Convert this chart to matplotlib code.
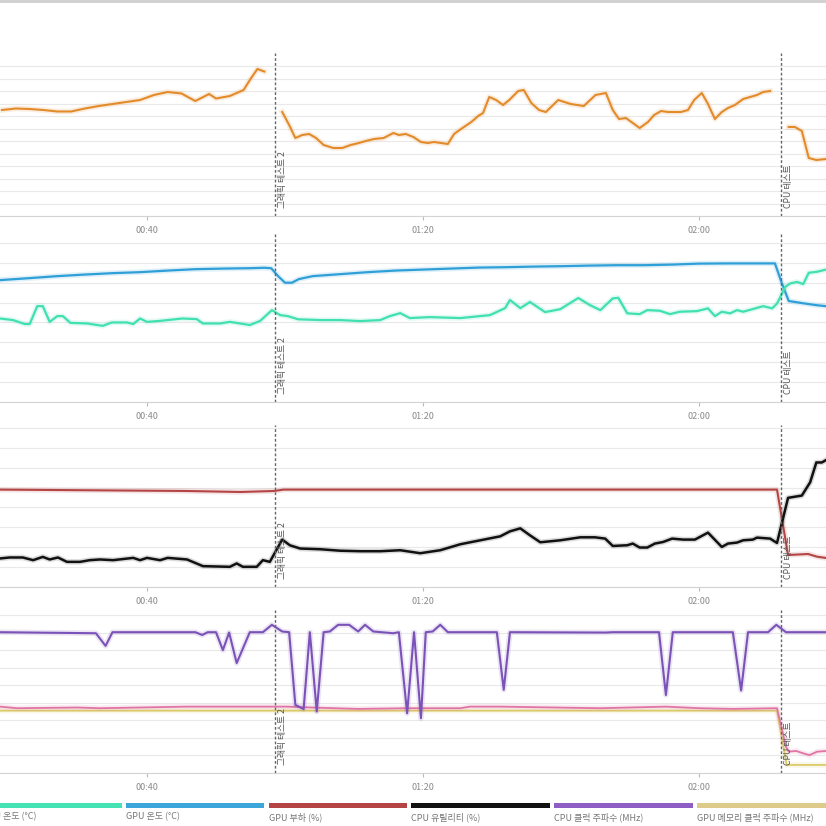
import numpy as np
import matplotlib.pyplot as plt
import matplotlib.transforms as mtransforms
import matplotlib.patheffects as pe
from matplotlib.patches import Rectangle
from matplotlib.ticker import FuncFormatter

plt.rcParams['font.family'] = ['Noto Sans CJK KR', 'DejaVu Sans']

# === Data (time in seconds) ===
nan = np.nan
fps_t = [19, 21, 23, 25, 27, 29, 31, 33, 35, 37, 39, 41, 43, 45, 47, 49, 50, 52, 54, 55, 56, 57,
         58,
         59.6, 60.6, 61.5, 62.5, 63.5, 64.5, 65.6, 67, 68.3, 69.5, 70.7, 71.7, 72.9, 74.3, 75.7, 76.5,
         77.5, 78.6, 79.7, 80.7, 81.6, 82.6, 83.6, 84.5, 85.5, 87, 88, 88.7, 89.6, 90.6, 91.6, 92.5,
         93.8, 94.6, 95.7, 96.8, 97.8, 99.6, 101.4, 103.3, 105, 106.5, 107.5, 108.4, 109.4, 110.4,
         111.4, 112.6, 113.5, 114.5, 115.5, 116.4, 117.4, 118.4, 119.3, 120.4, 121.3, 122.3, 123.3,
         124.2, 125.2, 126.4, 127.4, 128.4, 129.3, 130.3,
         131.5,
         133, 133.9, 134.9, 135.9, 137, 138.4]
fps_v = [84.8, 86.0, 85.6, 84.8, 83.6, 83.6, 86.0, 88.0, 89.6, 91.2, 92.8, 96.8, 99.2, 98.0, 92.0,
         97.6, 94.0, 96.0, 100.8, 109.6, 117.6, 115.6,
         nan,
         83.2, 72.8, 62.4, 64.8, 65.6, 62.4, 56.8, 54.4, 54.4, 56.8, 58.4, 60.0, 61.6, 62.4, 66.4, 64.8,
         65.6, 63.2, 59.2, 58.4, 59.2, 58.4, 57.6, 65.6, 69.6, 75.2, 80.0, 82.4, 95.2, 92.8, 88.8, 92.8,
         100.0, 100.8, 90.4, 84.8, 83.2, 92.8, 89.6, 88.0, 96.8, 98.4, 84.8, 77.6, 78.4, 74.4,
         70.4, 75.2, 80.8, 84.0, 83.2, 83.2, 83.2, 84.8, 92.8, 98.4, 89.6, 77.6, 83.2,
         86.4, 88.8, 93.6, 95.2, 96.8, 99.2, 100.0,
         nan,
         71.2, 71.2, 68.0, 46.4, 44.8, 45.6]

gpu_temp_t = [18.7, 23, 27, 31, 35, 39, 43, 47, 51, 55, 57, 58, 59, 60, 61, 62, 64, 68, 72, 76, 80,
              84, 88, 92, 96, 100, 104, 108, 112, 116, 120, 124, 128, 131, 132, 133, 135, 137, 138.4]
gpu_temp_v = [61.3, 62.3, 63.3, 64.1, 64.8, 65.3, 66.1, 66.8, 67.1, 67.3, 67.5, 67.3, 63.3, 60.0,
              60.0, 61.8, 63.3, 64.3, 65.3, 66.1, 66.6, 67.1, 67.6, 67.8, 68.1, 68.3, 68.6, 68.8,
              68.8, 69.1, 69.6, 69.7, 69.7, 69.7, 59.8, 50.8, 49.7, 48.7, 48.2]

cpu_temp_t = [18.7, 20.6, 22.3, 23.0, 24.1, 24.9, 25.9, 27.0, 27.8, 28.9, 31.3, 33.6, 34.9, 37.1,
              38.0, 39.0, 40.0, 41.9, 45.1, 47.2, 48.1, 50.6, 52.0, 53.5, 54.9, 56.4, 58.1, 59.3,
              60.4, 61.9, 65.1, 68.0, 70.9, 73.8, 75.2, 76.7, 78.1, 81.0, 85.4, 89.7, 91.9, 92.6,
              94.1, 95.5, 97.7, 99.9, 102.5, 104.2, 105.7, 107.5, 108.3, 109.6, 111.4, 112.5, 114.3,
              115.8, 117.2, 119.7, 121.3, 122.3, 123.3, 124.5, 125.5, 126.4, 129.3, 130.6, 131.3,
              132.5, 133.2, 134.2, 135.1, 135.9, 137.1, 138.4]
cpu_temp_v = [42.0, 41.2, 39.2, 39.2, 48.2, 48.2, 40.3, 43.2, 43.2, 39.8, 39.5, 38.3, 40.0, 40.0,
              39.2, 42.0, 40.3, 40.8, 42.0, 41.7, 39.5, 39.5, 40.3, 39.5, 38.7, 40.8, 46.2, 43.7,
              43.2, 41.6, 41.2, 41.2, 40.7, 41.2, 43.2, 44.7, 42.2, 42.7, 42.2, 43.7, 47.2, 51.3,
              47.2, 50.3, 45.2, 46.7, 52.3, 48.7, 46.2, 52.1, 52.4, 44.6, 44.2, 46.2, 45.9,
              44.2, 45.4, 45.7, 47.1, 43.2, 45.4, 44.6, 46.2, 45.4, 48.2, 47.1, 49.5,
              57.9, 59.6, 60.4, 59.3, 65.0, 65.5, 66.6]

gpu_load_t = [18.7, 45.8, 53.5, 58.4, 59.8, 131.3, 132.9, 135.8, 137.1, 138.4]
gpu_load_v = [98.0, 96.6, 95.6, 96.6, 98.0, 98.0, 32.2, 33.2, 30.5, 29.2]

cpu_util_t = [18.7, 20.1, 22.0, 23.5, 24.9, 25.9, 27.1, 28.4, 30.3, 31.7, 33.2, 35.1, 38.0, 39.0,
              40.0, 41.9, 43.0, 45.8, 48.1, 52.0, 53.0, 53.9, 55.9, 56.8, 57.8, 59.6, 60.7, 62.2,
              65.1, 68.0, 70.9, 73.8, 76.7, 79.6, 82.5, 85.4, 88.3, 91.2, 92.6, 94.1, 95.5, 97.0,
              99.9, 102.8, 104.9, 106.4, 107.5, 109.6, 110.4, 111.4, 112.5, 113.6, 114.8, 116.1,
              117.7, 119.4, 121.3, 123.3, 124.2, 125.5, 126.4, 127.8, 128.4, 130.3, 131.3, 132.9,
              134.9, 136.1, 137.0, 137.8, 138.4]
cpu_util_v = [28.7, 29.7, 29.7, 27.0, 30.3, 27.7, 29.7, 25.3, 25.3, 27.0, 27.7, 27.0, 29.3, 27.0,
              29.3, 27.0, 29.3, 27.7, 21.0, 20.3, 23.7, 20.3, 20.3, 27.0, 25.3, 47.7, 42.0, 38.7,
              38.0, 36.5, 36.0, 36.0, 37.0, 34.0, 37.0, 43.0, 47.0, 51.0, 56.0, 59.0, 52.0, 45.0,
              47.0, 50.0, 50.0, 48.7, 41.3, 42.0, 43.7, 39.7, 39.7, 43.7, 45.3, 48.7,
              47.7, 47.7, 54.7, 40.3, 43.7, 44.7, 47.0, 47.7, 49.7, 48.7, 44.3, 89.7,
              92.0, 105.3, 125.3, 125.3, 127.7]

cpu_clock_t = [18.7, 32.6, 34.0, 35.0, 47.0, 48.0, 48.8, 50.0, 51.0, 51.9, 53.0, 54.9, 56.8, 58.1,
               59.6, 60.6, 61.5, 62.7, 63.6, 64.6, 65.6, 66.5, 67.7, 69.3, 70.6, 71.6, 72.8, 75.7,
               76.5, 77.7, 78.7, 79.7, 80.4, 81.4, 82.5, 83.6, 90.7, 91.7, 92.6, 106.5, 107.5,
               114.2, 115.2, 116.2, 124.9, 126.1, 127.1, 130.0, 131.2, 132.6, 138.4]
cpu_clock_v = [4010, 3980, 3620, 4010, 4010, 3930, 4010, 4010, 3500, 4000, 3130, 4010, 4010, 4220,
               4030, 4010, 1940, 1820, 4010, 1750, 4010, 4030, 4220, 4220, 4030, 4220, 4030, 3980,
               4010, 1700, 4010, 1560, 4010, 4030, 4220, 4010, 4010, 2370, 4010, 4000, 4010,
               4010, 2220, 4010, 4010, 2350, 4010, 4010, 4220, 4010, 4010]

gpu_clock_t = [18.7, 21.2, 29.9, 33.2, 45.8, 60.3, 64.7, 70.6, 77.8, 85.4, 86.8, 91.2, 105.7, 115.2,
               120.1, 124.9, 131.3, 132.6, 133.0, 134.1, 135.1, 136.0, 137.1, 138.4]
gpu_clock_v = [1890, 1845, 1865, 1845, 1890, 1890, 1860, 1825, 1845, 1845, 1890, 1890, 1845, 1890,
               1845, 1825, 1845, 750, 610, 627, 560, 510, 607, 627]

gpu_mem_t = [18.7, 131.3, 132.7, 138.4]
gpu_mem_v = [1775, 1775, 230, 230]

events_t = [58.55, 131.9]
events_label = ['그래픽 테스트 2', 'CPU 테스트']

tick_t = [40, 80, 120]

legend_names = ['CPU 온도 (°C)', 'GPU 온도 (°C)', 'GPU 부하 (%)', 'CPU 유틸리티 (%)',
                'CPU 클럭 주파수 (MHz)', 'GPU 메모리 클럭 주파수 (MHz)']
legend_colors = ['#45e3b4', '#3aa6d9', '#b54545', '#111111', '#8e5ec4', '#dccb8a']

# === Layout ===
W = H = 826
fig = plt.figure(figsize=(8.26, 8.26), dpi=100)

def mmss(x, pos):
    return f"{int(x) // 60:02d}:{int(x) % 60:02d}"

# (top px, bottom px, grid max, grid step, ylim top)
panels = [(53, 216, 120, 10, 130.4),
          (232, 402, 80, 10, 85.5),
          (425, 587, 160, 20, 163),
          (610, 773, 4500, 500, 4642)]

axes = []
for top, bottom, gmax, gstep, ytop in panels:
    ax = fig.add_axes([0, 1 - bottom / H, 1, (bottom - top) / H])
    ax.set_xlim(18.7, 138.4)
    ax.set_ylim(0, ytop)
    ax.set_yticks(np.arange(0, gmax + gstep / 2, gstep))
    ax.tick_params(axis='y', length=0, labelleft=False)
    ax.grid(axis='y', color='#e9e9e9', lw=0.8)
    ax.set_axisbelow(True)
    for s in ['top', 'left', 'right']:
        ax.spines[s].set_visible(False)
    ax.spines['bottom'].set_color('#d4d4d4')
    ax.set_xticks(tick_t)
    ax.xaxis.set_major_formatter(FuncFormatter(mmss))
    ax.tick_params(axis='x', length=3, color='#bbbbbb', labelsize=6.5,
                   labelcolor='#8a8a8a', pad=4)
    ax.patch.set_alpha(0)
    for t, lab in zip(events_t, events_label):
        ax.axvline(t, color='#666666', lw=1, ls=(0, (2, 1.5)), zorder=5)
        tr = mtransforms.offset_copy(ax.get_xaxis_transform(), fig=fig, x=3, y=8, units='dots')
        ax.text(t, 0, lab, rotation=90, ha='left', va='bottom', fontsize=6.3,
                color='#555555', transform=tr, zorder=6)
    axes.append(ax)

def glow(c, w=4):
    return [pe.Stroke(linewidth=w, foreground=c, alpha=0.15), pe.Normal()]

ax1, ax2, ax3, ax4 = axes
ax1.plot(fps_t, fps_v, color='#e38b2b', lw=1.5, path_effects=glow('#e38b2b'))

ax2.plot(gpu_temp_t, gpu_temp_v, color='#2f9fd8', lw=1.6, path_effects=glow('#2f9fd8'))
ax2.plot(cpu_temp_t, cpu_temp_v, color='#40e0b0', lw=1.6, path_effects=glow('#40e0b0'))

ax3.plot(gpu_load_t, gpu_load_v, color='#b54545', lw=1.5, path_effects=glow('#b54545'))
ax3.plot(cpu_util_t, cpu_util_v, color='#111111', lw=1.8, path_effects=glow('#111111'))

ax4.plot(gpu_mem_t, gpu_mem_v, color='#dccb6a', lw=1.3, path_effects=glow('#dccb6a'))
ax4.plot(gpu_clock_t, gpu_clock_v, color='#e075a5', lw=1.3, path_effects=glow('#e075a5'))
ax4.plot(cpu_clock_t, cpu_clock_v, color='#7b52b8', lw=1.5, path_effects=glow('#7b52b8'))

# === Legend row ===
pitch, bar_w, x0 = 142.7, 138.5, -16.7
for i, (name, c) in enumerate(zip(legend_names, legend_colors)):
    xl = x0 + i * pitch
    fig.patches.append(Rectangle((xl / W, 1 - 808 / H), bar_w / W, 5 / H,
                                 transform=fig.transFigure, color=c, lw=0))
    fig.text(xl / W, 1 - 817 / H, name, fontsize=6.5, color='#777777', va='center', ha='left')

# thin grey strip at the top edge
fig.patches.append(Rectangle((0, 1 - 3 / H), 1, 3 / H, transform=fig.transFigure,
                             color='#d2d2d2', lw=0))

fig.savefig('out.png', dpi=100, facecolor='white')
